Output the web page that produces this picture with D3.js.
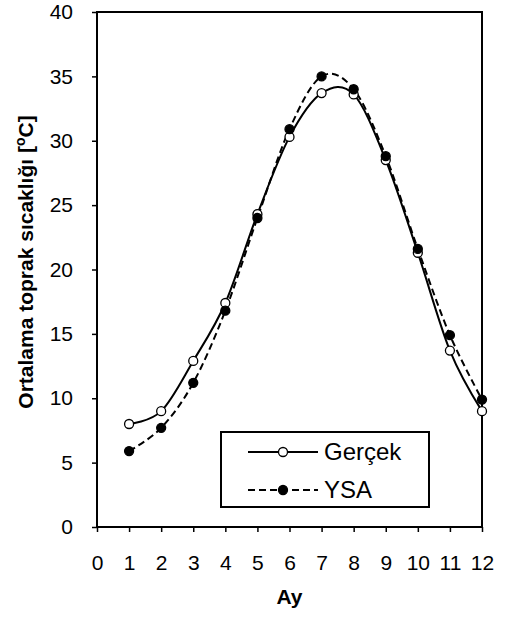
<!DOCTYPE html>
<html>
<head>
  <meta charset="utf-8">
  <title>Ortalama toprak sıcaklığı</title>
  <script src="https://cdn.jsdelivr.net/npm/d3@7"></script>
  <style>
    body { margin: 0; background: #fff; }
    text { font-family: Arial, "Liberation Sans", sans-serif; fill: #000; }
  </style>
</head>
<body>
  <svg id="chart" width="505" height="622"></svg>
  <script>
    // months and the two series
    var months = [1, 2, 3, 4, 5, 6, 7, 8, 9, 10, 11, 12];
    var gercek = [8.0, 9.0, 12.9, 17.4, 24.3, 30.3, 33.7, 33.6, 28.5, 21.3, 13.7, 9.0];
    var ysa = [5.9, 7.7, 11.2, 16.8, 24.0, 30.9, 35.0, 34.0, 28.8, 21.6, 14.9, 9.9];
    var xTicks = [0, 1, 2, 3, 4, 5, 6, 7, 8, 9, 10, 11, 12];
    var yTicks = [0, 5, 10, 15, 20, 25, 30, 35, 40];

    var margin = {left: 97, right: 23, top: 12, bottom: 95};
    var width = 505 - margin.left - margin.right,
        height = 622 - margin.top - margin.bottom;

    var svg = d3.select("#chart");
    var g = svg.append("g")
        .attr("transform", "translate(" + margin.left + "," + margin.top + ")");

    var x = d3.scaleLinear().domain([0, 12]).range([0, width]);
    var y = d3.scaleLinear().domain([0, 40]).range([height, 0]);

    // axes
    var xAxis = g.append("g")
        .attr("transform", "translate(0," + height + ")")
        .call(d3.axisBottom(x).tickValues(xTicks).tickSize(5).tickPadding(23));
    var yAxis = g.append("g")
        .call(d3.axisLeft(y).tickValues(yTicks).tickSize(5).tickPadding(19));

    [xAxis, yAxis].forEach(function(a) {
      a.select(".domain").remove();
      a.selectAll("line").attr("stroke", "#000").attr("stroke-width", 1.5);
      a.selectAll("text").style("font-size", "21px").attr("fill", "#000");
    });

    // frame
    g.append("rect")
        .attr("width", width)
        .attr("height", height)
        .attr("fill", "none")
        .attr("stroke", "#000")
        .attr("stroke-width", 2);

    var line = d3.line()
        .x(function(d) { return x(d[0]); })
        .y(function(d) { return y(d[1]); })
        .curve(d3.curveCardinal.tension(0));

    var series = [
      {name: "Gerçek", values: gercek, dash: null, fill: "#fff"},
      {name: "YSA", values: ysa, dash: "7,4", fill: "#000"}
    ];

    series.forEach(function(s) {
      var pts = months.map(function(m, i) { return [m, s.values[i]]; });
      g.append("path")
          .datum(pts)
          .attr("d", line)
          .attr("fill", "none")
          .attr("stroke", "#000")
          .attr("stroke-width", 2)
          .attr("stroke-dasharray", s.dash);
    });

    series.forEach(function(s) {
      var pts = months.map(function(m, i) { return [m, s.values[i]]; });
      g.selectAll(null)
          .data(pts)
          .enter().append("circle")
          .attr("cx", function(d) { return x(d[0]); })
          .attr("cy", function(d) { return y(d[1]); })
          .attr("r", 4.5)
          .attr("fill", s.fill)
          .attr("stroke", "#000")
          .attr("stroke-width", 1.3);
    });

    // legend
    var legend = svg.append("g").attr("transform", "translate(221,432)");
    legend.append("rect")
        .attr("width", 208)
        .attr("height", 75)
        .attr("fill", "#fff")
        .attr("stroke", "#000")
        .attr("stroke-width", 2);

    series.forEach(function(s, i) {
      var ly = 20 + i * 38;
      legend.append("line")
          .attr("x1", 27).attr("x2", 97)
          .attr("y1", ly).attr("y2", ly)
          .attr("stroke", "#000")
          .attr("stroke-width", 2)
          .attr("stroke-dasharray", s.dash);
      legend.append("circle")
          .attr("cx", 62).attr("cy", ly)
          .attr("r", 4.5)
          .attr("fill", s.fill)
          .attr("stroke", "#000")
          .attr("stroke-width", 1.3);
      legend.append("text")
          .attr("x", 103).attr("y", ly)
          .attr("dy", "0.35em")
          .style("font-size", "24px")
          .text(s.name);
    });

    // axis titles
    svg.append("text")
        .attr("x", margin.left + width / 2)
        .attr("y", 604)
        .attr("text-anchor", "middle")
        .style("font-size", "21px")
        .style("font-weight", "bold")
        .text("Ay");

    var yt = svg.append("text")
        .attr("transform", "translate(33,262) rotate(-90)")
        .attr("text-anchor", "middle")
        .style("font-size", "21px")
        .style("font-weight", "bold");
    yt.append("tspan").text("Ortalama toprak sıcaklığı [");
    yt.append("tspan").attr("dy", "-8").style("font-size", "14px").text("o");
    yt.append("tspan").attr("dy", "8").text("C]");
  </script>
</body>
</html>
